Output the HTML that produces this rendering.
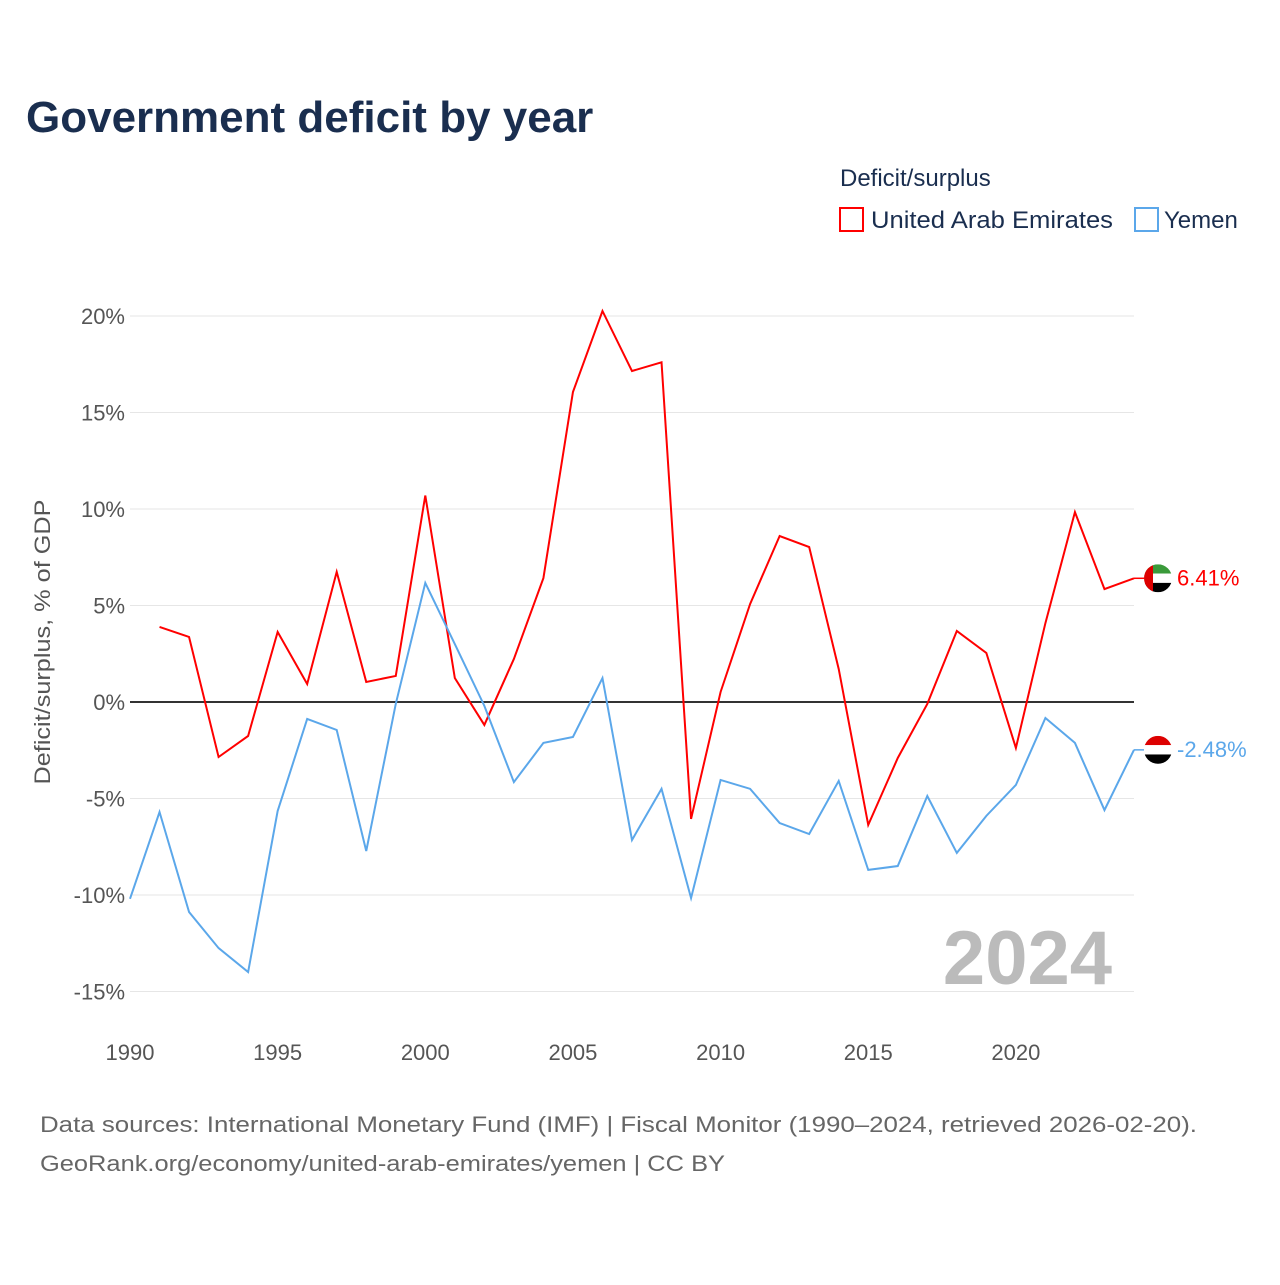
<!DOCTYPE html>
<html><head><meta charset="utf-8"><style>
body{margin:0;background:#fff;font-family:"Liberation Sans",sans-serif;}
svg text{font-family:"Liberation Sans",sans-serif;}
</style></head><body>
<svg id="c" width="1280" height="1280">
<text x="26" y="132" font-size="44" font-weight="bold" fill="#1a2e4f">Government deficit by year</text>
<text x="840" y="186" font-size="24" fill="#1a2e4f">Deficit/surplus</text>
<g><rect x="840" y="208" width="23" height="23" fill="none" stroke="#f00" stroke-width="2"/><text x="871" y="228" font-size="24" fill="#1a2e4f" textLength="242" lengthAdjust="spacingAndGlyphs">United Arab Emirates</text></g>
<g><rect x="1135" y="208" width="23" height="23" fill="none" stroke="#5ba7ea" stroke-width="2"/><text x="1164" y="228" font-size="24" fill="#1a2e4f">Yemen</text></g>
<text transform="translate(50,642) rotate(-90)" text-anchor="middle" font-size="22" fill="#555" textLength="285" lengthAdjust="spacingAndGlyphs">Deficit/surplus, % of GDP</text>
<g id="grid"></g><g id="lines"></g>
<text x="1112" y="984" text-anchor="end" font-size="76" font-weight="bold" fill="#bbb">2024</text>
<text x="40" y="1132" font-size="22" fill="#666" textLength="1157" lengthAdjust="spacingAndGlyphs">Data sources: International Monetary Fund (IMF) | Fiscal Monitor (1990–2024, retrieved 2026-02-20).</text>
<text x="40" y="1171" font-size="22" fill="#666" textLength="685" lengthAdjust="spacingAndGlyphs">GeoRank.org/economy/united-arab-emirates/yemen | CC BY</text>
</svg>
<script>
const yTicks=[20,15,10,5,0,-5,-10,-15];
const xTicks=[1990,1995,2000,2005,2010,2015,2020];
const uaeYears=[1991,1992,1993,1994,1995,1996,1997,1998,1999,2000,2001,2002,2003,2004,2005,2006,2007,2008,2009,2010,2011,2012,2013,2014,2015,2016,2017,2018,2019,2020,2021,2022,2023,2024];
const uaeValues=[3.89,3.37,-2.85,-1.76,3.63,0.93,6.74,1.04,1.35,10.7,1.24,-1.19,2.23,6.42,16.06,20.26,17.15,17.6,-6.06,0.52,5.08,8.6,8.03,1.71,-6.37,-2.9,-0.1,3.68,2.54,-2.38,4.09,9.84,5.85,6.41];
const yemenYears=[1990,1991,1992,1993,1994,1995,1996,1997,1998,1999,2000,2001,2002,2003,2004,2005,2006,2007,2008,2009,2010,2011,2012,2013,2014,2015,2016,2017,2018,2019,2020,2021,2022,2023,2024];
const yemenValues=[-10.2,-5.7,-10.88,-12.75,-13.99,-5.65,-0.88,-1.45,-7.72,-0.1,6.17,3.0,-0.2,-4.15,-2.12,-1.81,1.24,-7.15,-4.5,-10.16,-4.04,-4.5,-6.27,-6.84,-4.09,-8.7,-8.5,-4.87,-7.82,-5.9,-4.3,-0.83,-2.12,-5.6,-2.48];
const NS="http://www.w3.org/2000/svg";
const X=y=>130+(y-1990)*(1134-130)/34;
const Y=v=>702-v*(702-316)/20;
function mk(t,a,p){const e=document.createElementNS(NS,t);for(const k in a)e.setAttribute(k,a[k]);p.appendChild(e);return e;}
const g=document.getElementById('grid'),L=document.getElementById('lines');
yTicks.forEach(v=>{const l=mk('line',{x1:130,x2:1134,y1:Y(v),y2:Y(v),stroke:v===0?'#333':'#e6e6e6','stroke-width':v===0?2:1},g);


const t=mk('text',{x:125,y:Y(v)+8,'text-anchor':'end','font-size':22,fill:'#555'},g);t.textContent=v+'%';

});
xTicks.forEach(y=>{const t=mk('text',{x:X(y),y:1060,'text-anchor':'middle','font-size':22,fill:'#555'},g);t.textContent=y;

});
function series(yrs,vals,col,name){const p=mk('polyline',{points:yrs.map((y,i)=>X(y)+','+Y(vals[i])).join(' '),fill:'none',stroke:col,'stroke-width':2},L);


const v=vals[vals.length-1],cy=Y(v),cx=1158;
mk('line',{x1:1134,x2:cx-14,y1:cy,y2:cy,stroke:col,'stroke-width':1.5},L);
const f=mk('g',{},L);
const cp=mk('clipPath',{id:'cp'+name},f);mk('circle',{cx:cx,cy:cy,r:14},cp);
const fg=mk('g',{'clip-path':'url(#cp'+name+')'},f);
if(name==='uae'){mk('rect',{x:cx-14,y:cy-14,width:28,height:9.3,fill:'#3a9a3a'},fg);mk('rect',{x:cx-14,y:cy-4.7,width:28,height:9.3,fill:'#fff'},fg);mk('rect',{x:cx-14,y:cy+4.6,width:28,height:9.4,fill:'#000'},fg);mk('rect',{x:cx-14,y:cy-14,width:9,height:28,fill:'#d00'},fg);}
else{mk('rect',{x:cx-14,y:cy-14,width:28,height:9.3,fill:'#d00'},fg);mk('rect',{x:cx-14,y:cy-4.7,width:28,height:9.3,fill:'#fff'},fg);mk('rect',{x:cx-14,y:cy+4.6,width:28,height:9.4,fill:'#000'},fg);}
const t=mk('text',{x:1177,y:cy+7,'font-size':22,fill:col},L);t.textContent=v.toFixed(2)+'%';

}
series(uaeYears,uaeValues,'#f00','uae');
series(yemenYears,yemenValues,'#5ba7ea','yemen');
</script></body></html>
